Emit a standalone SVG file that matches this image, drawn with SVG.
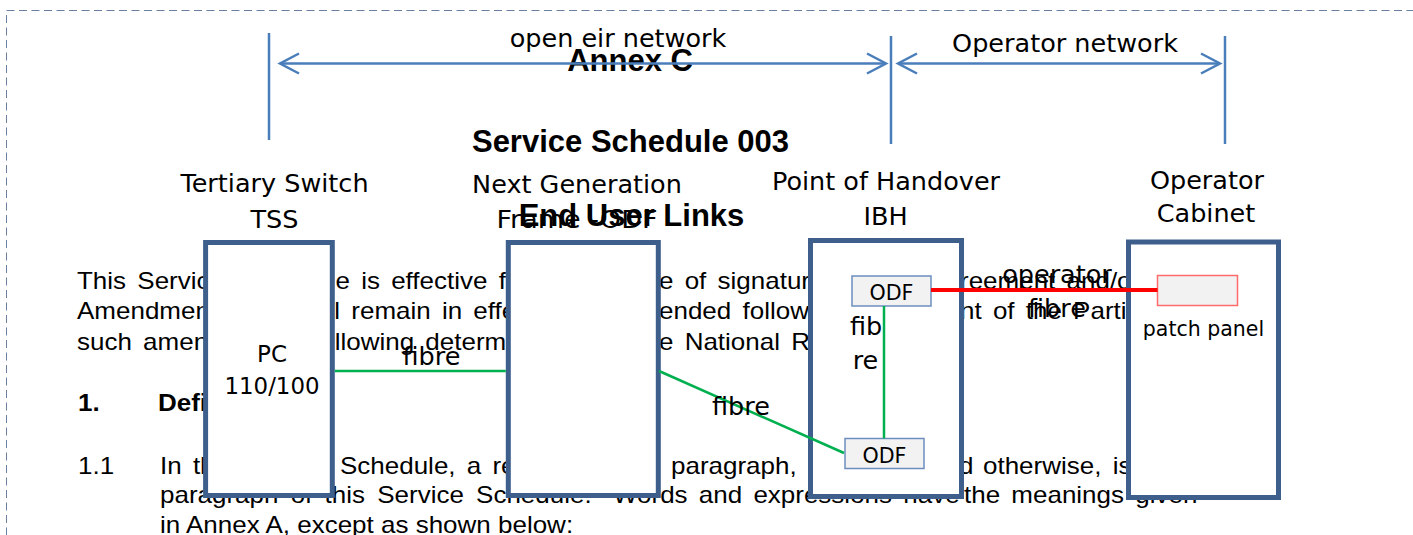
<svg xmlns="http://www.w3.org/2000/svg" width="1413" height="535" viewBox="0 0 1413 535">
<defs>
<style>
.doc{font-family:"Liberation Sans",Arial,sans-serif;font-size:26px;fill:#000;word-spacing:4px}
.last{word-spacing:0}
.docb{font-family:"Liberation Sans",Arial,sans-serif;font-size:26px;font-weight:bold;fill:#000}
.title{font-family:"Liberation Sans",Arial,sans-serif;font-size:31px;font-weight:bold;fill:#000;text-anchor:middle}
.lbl{font-family:"DejaVu Sans",Verdana,sans-serif;font-size:25.5px;fill:#000;text-anchor:middle}
.sm{font-size:23px}
.xs{font-size:20.5px}
.odft{font-size:22px}
.dim{stroke:#4a7ebb;stroke-width:2.5;fill:none}
.node{fill:#fff;stroke:#3e5f8c;stroke-width:5}
.odf{fill:#f2f2f2;stroke:#6c8ebf;stroke-width:1.5}
.pp{fill:#f2f2f2;stroke:#ff6b6b;stroke-width:1.5}
.fib{stroke:#00b050;stroke-width:2.5;fill:none}
.opf{stroke:#ff0000;stroke-width:4;fill:none}
</style>
<marker id="chev" markerUnits="userSpaceOnUse" markerWidth="26" markerHeight="26" viewBox="-23 -13 26 26" refX="0" refY="0" orient="auto-start-reverse" overflow="visible">
<path d="M-19,-10 L0,0 L-19,10" fill="none" stroke="#4a7ebb" stroke-width="2.5"/>
</marker>
</defs>
<rect width="1413" height="535" fill="#fff"/>

<g id="document-titles">
<text class="title" x="630" y="71">Annex C</text>
<text class="title" x="630.5" y="152">Service Schedule 003</text>
<text class="title" x="631.5" y="226">End User Links</text>
</g>
<g id="document-text" transform="scale(1,0.9)">
<text class="doc" x="77" y="320.56">This Service</text>
<text class="doc" x="335.5" y="320.56">e is effective from</text>
<text class="doc" x="659" y="320.56">e of signature</text>
<text class="doc" x="960" y="320.56">reement and/or</text>
<text class="doc" x="77" y="355">Amendment</text>
<text class="doc" x="334.3" y="355">l remain in effect</text>
<text class="doc" x="659" y="355">ended following</text>
<text class="doc" x="960" y="355">nt of the Parties</text>
<text class="doc" x="77" y="388.89">such amendment</text>
<text class="doc" x="313" y="388.89">following determination</text>
<text class="doc" x="659" y="388.89">e National Regulator.</text>
<text class="docb" x="78" y="457.22">1.</text>
<text class="docb" x="158" y="457.22">Definitions</text>
<text class="doc" x="78" y="526.67">1.1</text>
<text class="doc" x="160" y="526.67">In this</text>
<text class="doc" x="340" y="526.67">Schedule, a reference</text>
<text class="doc" x="671" y="526.67">paragraph,</text>
<text class="doc" x="959" y="526.67">d</text>
<text class="doc" x="983" y="526.67">otherwise, is</text>
<text class="doc" x="160" y="559.44" style="word-spacing:5px">paragraph of this Service Schedule.</text>
<text class="doc" x="613" y="559.44">Words and expressions have</text>
<text class="doc" x="964" y="559.44">the meanings given</text>
<text class="doc last" x="160" y="592.22">in Annex A, except as shown below:</text>
</g>

<rect id="frame" x="6.5" y="10.5" width="1500" height="600" fill="none" stroke="#6b7fa0" stroke-width="1" stroke-dasharray="8 4.5"/>

<g id="extents">
<line class="dim" x1="269" y1="33" x2="269" y2="140"/>
<line class="dim" x1="891" y1="36" x2="891" y2="144"/>
<line class="dim" x1="1225" y1="36" x2="1225" y2="144"/>
<line class="dim" x1="280" y1="63.5" x2="886" y2="63.5" marker-start="url(#chev)" marker-end="url(#chev)"/>
<line class="dim" x1="898" y1="63.5" x2="1220" y2="63.5" marker-start="url(#chev)" marker-end="url(#chev)"/>
<text class="lbl" x="618" y="47">open eir network</text>
<text class="lbl" x="1065" y="52">Operator network</text>
</g>

<g id="node-tss">
<text class="lbl" x="274.5" y="191.7">Tertiary Switch</text>
<text class="lbl" x="274.5" y="227.7">TSS</text>
<rect class="node" x="205.6" y="242.5" width="126.7" height="253"/>
<text class="lbl sm" x="272" y="361.7">PC</text>
<text class="lbl sm" x="272" y="394" textLength="95" lengthAdjust="spacingAndGlyphs">110/100</text>
</g>

<g id="node-ngf">
<text class="lbl" x="577" y="193">Next Generation</text>
<text class="lbl" x="577" y="228" textLength="161" lengthAdjust="spacingAndGlyphs">Frame -ODF</text>
<rect class="node" x="508.3" y="242.5" width="150" height="253"/>
</g>

<g id="node-ibh">
<text class="lbl" x="886" y="189.5">Point of Handover</text>
<text class="lbl" x="885.5" y="225">IBH</text>
<rect class="node" x="810.5" y="240.5" width="151" height="256"/>
<rect class="odf" x="852" y="276" width="79" height="30"/>
<text class="lbl odft" x="891.5" y="300" textLength="44" lengthAdjust="spacingAndGlyphs">ODF</text>
<rect class="odf" x="845" y="438.5" width="79" height="30"/>
<text class="lbl odft" x="884.5" y="462.7" textLength="44" lengthAdjust="spacingAndGlyphs">ODF</text>
</g>

<g id="node-cabinet">
<text class="lbl" x="1207" y="188.5">Operator</text>
<text class="lbl" x="1206" y="222">Cabinet</text>
<rect class="node" x="1128.5" y="242" width="150" height="255.5"/>
<rect class="pp" x="1157.5" y="275.5" width="80" height="30"/>
<text class="lbl xs" x="1203.5" y="336">patch panel</text>
</g>

<g id="connectors">
<line class="fib" x1="334.8" y1="371" x2="505.8" y2="371"/>
<text class="lbl" x="431.5" y="365">fibre</text>
<line class="fib" x1="659" y1="371" x2="844" y2="453"/>
<text class="lbl" x="741" y="415">fibre</text>
<line class="fib" x1="884" y1="306" x2="884" y2="438.5"/>
<text class="lbl" x="866" y="335">fib</text>
<text class="lbl" x="865.5" y="368.5">re</text>
<line class="opf" x1="931" y1="290" x2="1157.5" y2="290"/>
<text class="lbl" x="1057" y="283">operator</text>
<text class="lbl" x="1057" y="317">fibre</text>
</g>
</svg>
